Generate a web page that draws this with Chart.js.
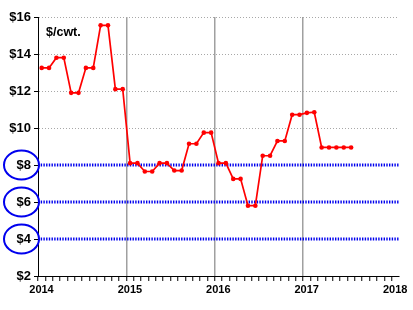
<!DOCTYPE html>
<html>
<head>
<meta charset="utf-8">
<script src="https://cdn.jsdelivr.net/npm/chart.js@4.4.1/dist/chart.umd.min.js"></script>
<style>
  html, body { margin: 0; padding: 0; background: #fff; }
  #wrap { width: 413px; height: 310px; }
</style>
</head>
<body>
<div id="wrap"><canvas id="grafico"></canvas></div>
<script>
const meses = [
  "2014-01", "2014-02", "2014-03", "2014-04", "2014-05", "2014-06",
  "2014-07", "2014-08", "2014-09", "2014-10", "2014-11", "2014-12",
  "2015-01", "2015-02", "2015-03", "2015-04", "2015-05", "2015-06",
  "2015-07", "2015-08", "2015-09", "2015-10", "2015-11", "2015-12",
  "2016-01", "2016-02", "2016-03", "2016-04", "2016-05", "2016-06",
  "2016-07", "2016-08", "2016-09", "2016-10", "2016-11", "2016-12",
  "2017-01", "2017-02", "2017-03", "2017-04", "2017-05", "2017-06", "2017-07"
];
const precios = [
  13.25, 13.25, 13.8, 13.8, 11.9, 11.9, 13.25, 13.25, 15.55, 15.55, 12.1, 12.1,
  8.1, 8.1, 7.65, 7.65, 8.1, 8.1, 7.7, 7.7, 9.15, 9.15, 9.75, 9.75,
  8.1, 8.1, 7.25, 7.25, 5.8, 5.8, 8.5, 8.5, 9.3, 9.3, 10.72, 10.72,
  10.82, 10.85, 8.95, 8.95, 8.95, 8.95, 8.95
];
const niveles = [8, 6, 4];           // blue dotted reference lines + circled labels
const anios = [2014, 2015, 2016, 2017, 2018];
const lineasAnio = [2015, 2016, 2017];
const unidad = "$/cwt.";

const xMin = 2014, xMax = 2018 + 1 / 12;

// "2014-03" -> mid-month decimal year
const aDecimal = m => {
  const [a, mm] = m.split("-").map(Number);
  return a + (mm - 0.5) / 12;
};

const serie = meses.map((m, i) => ({ x: aDecimal(m), y: precios[i] }));

const esEntero = v => Math.abs(v - Math.round(v)) < 1e-6;

const fuente = "'Liberation Sans', Arial, sans-serif";

const marcas = {
  id: "marcas",
  afterDraw(chart) {
    const { ctx, chartArea, scales } = chart;
    ctx.save();
    ctx.strokeStyle = "#0000ee";
    ctx.lineWidth = 2;
    niveles.forEach(v => {
      const y = scales.y.getPixelForValue(v);
      ctx.beginPath();
      ctx.ellipse(21.5, y, 17.5, 14.5, 0, 0, Math.PI * 2);
      ctx.stroke();
    });
    ctx.fillStyle = "#000";
    ctx.font = "bold 12.5px " + fuente;
    ctx.textBaseline = "middle";
    ctx.fillText(unidad, chartArea.left + 8, chartArea.top + 16);
    ctx.restore();
  }
};

const datasets = [{
  data: serie,
  borderColor: "#ff0000",
  backgroundColor: "#ff0000",
  borderWidth: 1.7,
  pointRadius: 2.3,
  pointBorderWidth: 0,
  tension: 0,
  order: 0
}];
niveles.forEach(v => {
  datasets.push({
    data: [{ x: xMin, y: v }, { x: xMax, y: v }],
    borderColor: "#0000ee",
    borderWidth: 3,
    borderDash: [1.4, 1.3],
    pointRadius: 0,
    order: 1
  });
});

new Chart(document.getElementById("grafico"), {
  type: "line",
  data: { datasets },
  plugins: [marcas],
  options: {
    responsive: true,
    maintainAspectRatio: false,
    animation: false,
    layout: { padding: { left: 0, right: 14, top: 17, bottom: 0 } },
    plugins: { legend: { display: false }, tooltip: { enabled: false } },
    scales: {
      x: {
        type: "linear",
        min: xMin,
        max: xMax,
        afterFit: s => { s.height = 34; },
        border: { color: "#000", width: 1 },
        grid: {
          color: c => lineasAnio.some(a => Math.abs(c.tick.value - a) < 1e-6) ? "#a0a0a0" : "rgba(0,0,0,0)",
          lineWidth: 1.5,
          tickColor: "#000",
          tickLength: 5,
          tickWidth: 1
        },
        ticks: {
          stepSize: 1 / 12,
          autoSkip: false,
          maxRotation: 0,
          includeBounds: false,
          padding: 2,
          labelOffset: 3.5,
          color: "#000",
          font: { family: fuente, size: 11, weight: "bold" },
          callback: v => (esEntero(v) && anios.includes(Math.round(v))) ? String(Math.round(v)) : ""
        }
      },
      y: {
        min: 2,
        max: 16,
        afterFit: s => { s.width = 38; },
        border: { color: "#000", width: 1, dash: [1, 2] },
        grid: {
          color: c => c.tick.value >= 10 ? "#a8a8a8" : "rgba(0,0,0,0)",
          lineWidth: 1,
          tickColor: "#000",
          tickLength: 4
        },
        ticks: {
          stepSize: 2,
          padding: 3,
          color: "#000",
          font: { family: fuente, size: 13, weight: "bold" },
          callback: v => "$" + v
        }
      }
    }
  }
});
</script>
</body>
</html>
